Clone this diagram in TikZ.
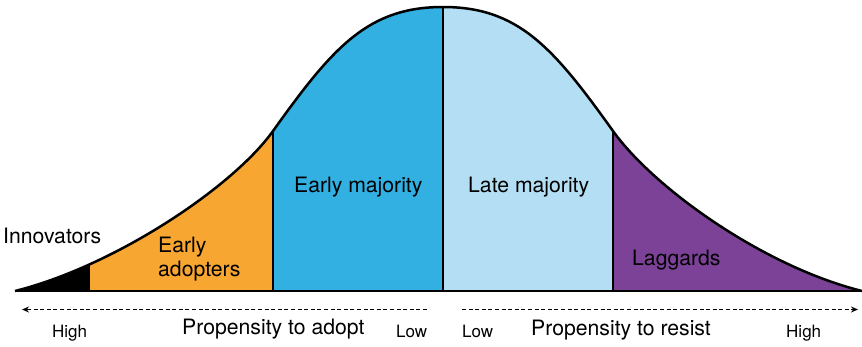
\documentclass[tikz,border=0pt]{standalone}
\usepackage{fontspec}
\setmainfont{TeX Gyre Heros}
\usetikzlibrary{arrows.meta}
\definecolor{adoptorange}{RGB}{248,166,50}
\definecolor{majblue}{RGB}{50,176,226}
\definecolor{latblue}{RGB}{180,222,243}
\definecolor{lagpurple}{RGB}{123,66,151}
\begin{document}
\begin{tikzpicture}[x=1pt,y=-1pt,
  biglabel/.style={inner sep=0pt,anchor=base west,font=\fontsize{21.2}{25}\selectfont},
  smalllabel/.style={inner sep=0pt,anchor=base west,font=\fontsize{17}{20}\selectfont},
  curveline/.style={line width=2.5pt,line join=round},
  divider/.style={line width=2pt},
  scalearrow/.style={dash pattern=on 4pt off 2.6pt,line width=1.1pt,-{Stealth[length=7pt,width=6pt]}}]
\useasboundingbox (0,0) rectangle (862,346);
\def\bellpath{(15,291) .. controls (115,266) and (233,187) .. (273,131) .. controls (333,47) and (368,7) .. (443,7) .. controls (518,7) and (553,47) .. (613,131) .. controls (653,187) and (762,266) .. (862,291)}
\begin{scope}
  \clip \bellpath -- cycle;
  \fill[black] (0,0) rectangle (90,300);
  \fill[adoptorange] (90,0) rectangle (273,300);
  \fill[majblue] (273,0) rectangle (443,300);
  \fill[latblue] (443,0) rectangle (613,300);
  \fill[lagpurple] (613,0) rectangle (870,300);
  \draw[divider] (273,0) -- (273,300);
  \draw[divider] (443,0) -- (443,300);
  \draw[divider] (613,0) -- (613,300);
\end{scope}
\draw[curveline] \bellpath;
\draw[line width=2.4pt] (15,291) -- (862,291);

\node[biglabel] (innov) at (3,243) {Innovators};
\node[biglabel] (early1) at (158,252) {Early};
\node[biglabel] (early2) at (158,276.5) {adopters};
\node[biglabel] (earlymaj) at (294,192) {Early majority};
\node[biglabel] (latemaj) at (468,192) {Late majority};
\node[biglabel] (lag) at (632,265) {Laggards};

\coordinate (adoptstart) at (427,309.5);
\coordinate (adoptend) at (22,309.5);
\coordinate (resiststart) at (462,309.5);
\coordinate (resistend) at (858,309.5);
\draw[scalearrow] (adoptstart) -- (adoptend);
\draw[scalearrow] (resiststart) -- (resistend);

\node[smalllabel] (highleft) at (52,337) {High};
\node[biglabel] (propadopt) at (182,334) {Propensity to adopt};
\node[smalllabel] (lowleft) at (396,337) {Low};
\node[smalllabel] (lowright) at (462,337) {Low};
\node[biglabel] (propresist) at (531,335) {Propensity to resist};
\node[smalllabel] (highright) at (786,337) {High};
\end{tikzpicture}
\end{document}
